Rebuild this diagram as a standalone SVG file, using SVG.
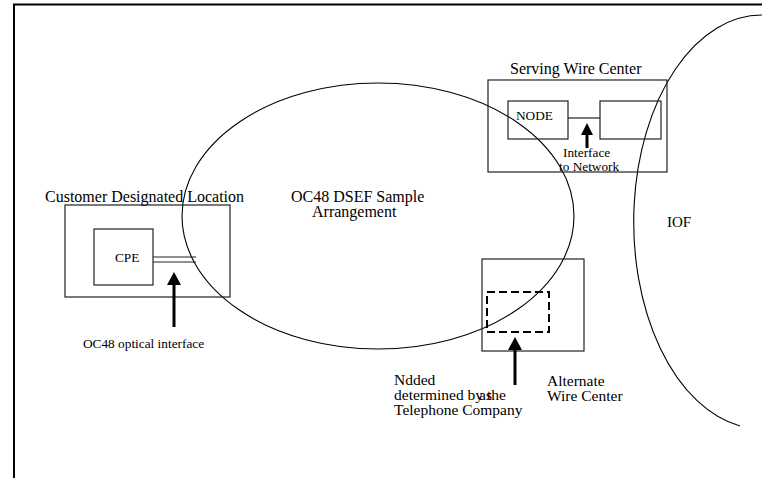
<svg xmlns="http://www.w3.org/2000/svg" width="762" height="478" viewBox="0 0 762 478">
<style>
.t{font-family:"Liberation Serif","Times New Roman",serif;fill:#000}
.big{font-size:16px}
.mid{font-size:15.5px}
.sm{font-size:13.3px}
.box{fill:none;stroke:#222;stroke-width:1.2}
.curve{fill:none;stroke:#000;stroke-width:1.1}
.shaft{stroke:#000;stroke-width:3}
.head{fill:#000}
</style>
<rect width="762" height="478" fill="#fff"/>
<g id="frame">
<path d="M14 478 V4.5 H762" fill="none" stroke="#000" stroke-width="2"/>
</g>
<g id="dsef-ellipse">
<ellipse class="curve" cx="378" cy="216" rx="196" ry="133"/>
<text class="t big" x="291" y="202">OC48 DSEF Sample</text>
<text class="t big" x="312" y="217">Arrangement</text>
</g>
<g id="iof">
<path class="curve" d="M762 15 A128 207 0 0 0 740 426"/>
<text class="t" font-size="15" x="667" y="227">IOF</text>
</g>
<g id="customer-location">
<rect class="box" x="65" y="205" width="165" height="92"/>
<text class="t big" x="45" y="202">Customer Designated Location</text>
</g>
<g id="cpe">
<rect class="box" x="94" y="229" width="59" height="56"/>
<text class="t sm" x="115" y="262">CPE</text>
</g>
<g id="serving-wire-center">
<rect class="box" x="488" y="80" width="179" height="92"/>
<text class="t big" x="510" y="74">Serving Wire Center</text>
</g>
<g id="node">
<rect class="box" x="508" y="101" width="60" height="38"/>
<text class="t sm" x="516" y="120">NODE</text>
</g>
<g id="network-box">
<rect class="box" x="600" y="101" width="61" height="38"/>
</g>
<g id="alternate-wire-center">
<rect class="box" x="482" y="259" width="102" height="92"/>
<rect x="487" y="292" width="62" height="40" fill="none" stroke="#000" stroke-width="2" stroke-dasharray="8,4"/>
<text class="t mid" x="547" y="386">Alternate</text>
<text class="t mid" x="547" y="401">Wire Center</text>
</g>
<g id="connectors">
<line x1="153" y1="257" x2="196" y2="257" stroke="#222" stroke-width="1.2"/>
<line x1="153" y1="262" x2="196" y2="262" stroke="#222" stroke-width="1.2"/>
<line x1="568" y1="118" x2="600" y2="118" stroke="#222" stroke-width="1.2"/>
<line class="shaft" x1="174" y1="327" x2="174" y2="283"/>
<polygon class="head" points="174,272 167,285 181,285"/>
<line class="shaft" x1="587" y1="148" x2="587" y2="132"/>
<polygon class="head" points="587,123 581,135 593,135"/>
<line class="shaft" x1="515" y1="385" x2="515" y2="348"/>
<polygon class="head" points="515,337 508,350 522,350"/>
</g>
<g id="labels">
<text class="t sm" x="83" y="348">OC48 optical interface</text>
<text class="t sm" x="563" y="157">Interface</text>
<text class="t sm" x="559" y="171">to Network</text>
<text class="t mid" x="394" y="385">Ndded</text>
<text class="t mid" x="394" y="400">determined by the</text>
<text class="t mid" x="479" y="400">as</text>
<text class="t mid" x="394" y="415">Telephone Company</text>
</g>
</svg>
